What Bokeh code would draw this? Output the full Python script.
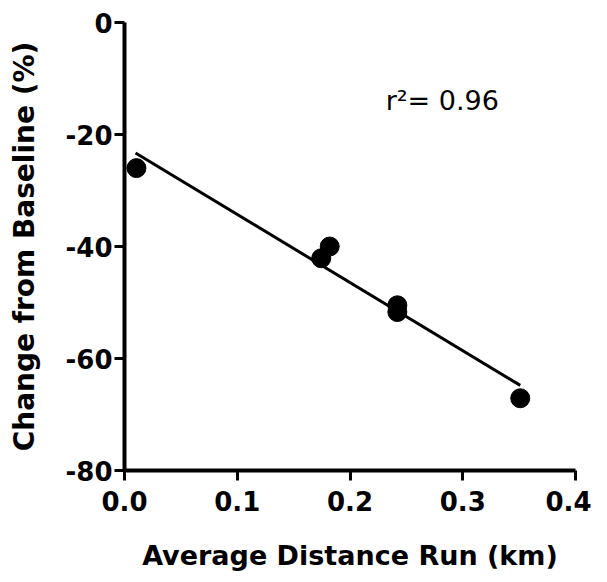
from bokeh.plotting import figure
from bokeh.models import Range1d, FixedTicker, Label, CustomJSTickFormatter
from bokeh.embed import file_html
from bokeh.resources import INLINE

# data
distance_km = [0.0106, 0.1745, 0.182, 0.242, 0.242, 0.351]
change_pct = [-26.0, -42.1, -40.0, -50.5, -51.7, -67.1]
fit_x = [0.0098, 0.351]
fit_y = [-23.3, -64.8]
x_ticks = [0.0, 0.1, 0.2, 0.3, 0.4]
y_ticks = [0, -20, -40, -60, -80]
r2_text = "r²= 0.96"

p = figure(width=591, height=574, output_backend="svg", toolbar_location=None,
           x_range=Range1d(0, 0.4), y_range=Range1d(-80, 0),
           min_border_left=124, min_border_right=16, min_border_top=22,
           min_border_bottom=104)
p.outline_line_color = None
p.xgrid.visible = False
p.ygrid.visible = False

p.line(fit_x, fit_y, line_color="black", line_width=3)
p.scatter(distance_km, change_pct, size=19, fill_color="black", line_color="black")

p.xaxis.ticker = FixedTicker(ticks=x_ticks)
p.yaxis.ticker = FixedTicker(ticks=y_ticks)
p.xaxis.formatter = CustomJSTickFormatter(code="return tick.toFixed(1);")
p.yaxis.formatter = CustomJSTickFormatter(code="return tick.toFixed(0);")

for ax in (p.xaxis[0], p.yaxis[0]):
    ax.axis_line_width = 4
    ax.major_tick_line_width = 3
    ax.major_tick_out = 10
    ax.major_tick_in = 0
    ax.minor_tick_line_color = None
    ax.major_label_text_font = "DejaVu Sans"
    ax.major_label_text_font_style = "bold"
    ax.major_label_text_font_size = "26px"
    ax.major_label_text_color = "black"
    ax.axis_label_text_font = "DejaVu Sans"
    ax.axis_label_text_font_style = "bold"
    ax.axis_label_text_font_size = "27px"
    ax.axis_label_text_color = "black"

p.xaxis.axis_label = "Average Distance Run (km)"
p.yaxis.axis_label = "Change from Baseline (%)"
p.yaxis.axis_label_text_font_size = "28px"
p.xaxis.major_label_standoff = 10
p.xaxis.axis_label_standoff = 26
p.yaxis.major_label_standoff = 2
p.yaxis.axis_label_standoff = 22

p.add_layout(Label(x=0.2316, y=-14.0, text=r2_text, text_font="DejaVu Sans",
                   text_font_size="27px", text_color="black",
                   text_baseline="alphabetic"))

open("out.html", "w").write(file_html(p, INLINE))
